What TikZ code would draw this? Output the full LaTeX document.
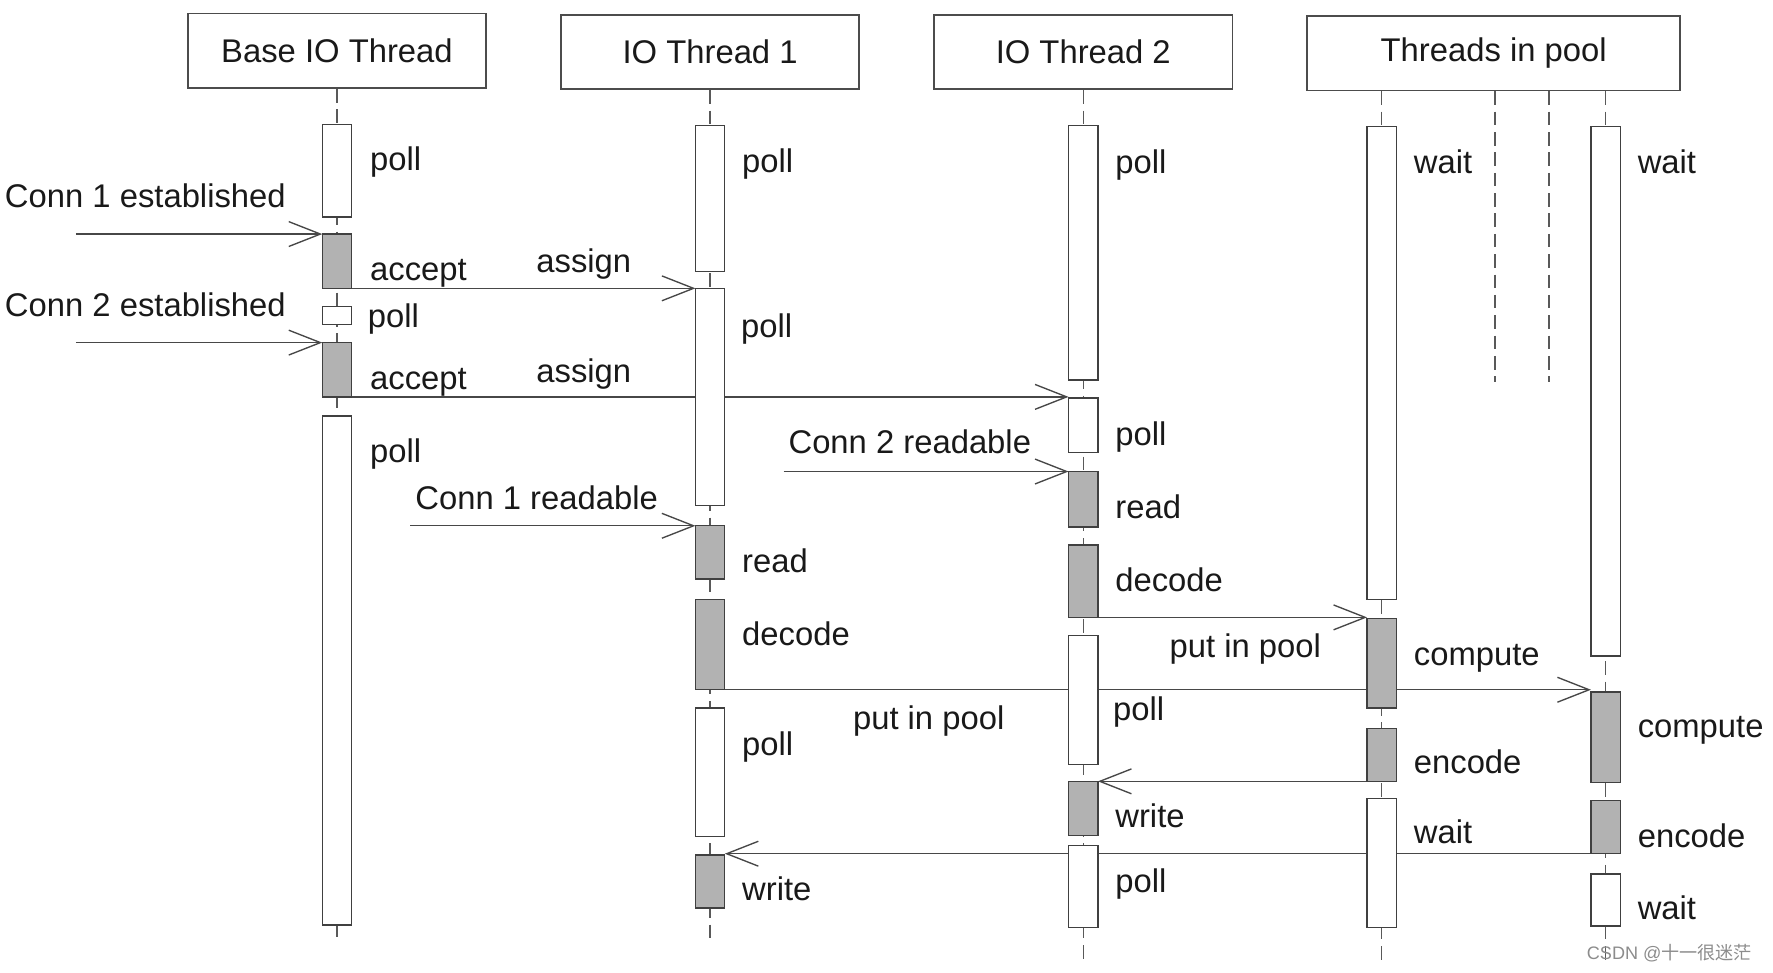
\documentclass[tikz,border=0pt]{standalone}
\usepackage{fontspec}
\setmainfont{Liberation Sans}
\newfontfamily\cjk{Noto Sans CJK SC}
\usetikzlibrary{arrows.meta,calc}
\newcommand\actbox[5]{%
  \pgfmathsetmacro\yc{(#3+#4)/2}\pgfmathsetmacro\hh{(#4-#3)*0.5}%
  \node[#5, minimum height=\hh pt] (#1) at (#2,\yc) {};}
\begin{document}
\begin{tikzpicture}[x=0.5pt,y=-0.5pt,
  font=\fontsize{14.5}{17}\selectfont,
  txt/.style={text=black!90, inner sep=0pt, anchor=west, text height=0.72em, text depth=0.2em, yshift=-2.5pt},
  hdr/.style={draw=black!70, line width=0.8pt, fill=white, minimum width=132pt, minimum height=33pt, inner sep=0pt, text=black!90},
  wbox/.style={draw=black!75, line width=0.6pt, fill=white, minimum width=13pt, inner sep=0pt, outer sep=0pt},
  sbox/.style={wbox, fill=black!30},
  life/.style={draw=black!65, line width=0.6pt, dash pattern=on 6pt off 3pt},
  msg/.style={draw=black!72, line width=0.6pt, -{Straight Barb[length=14pt,width=11pt]}},
]
\useasboundingbox (0,0) rectangle (1568,860);
\pgfdeclarelayer{bg}
\pgfsetlayers{bg,main}

% headers
\node[hdr] (hbase) at (298,45) {Base IO Thread};
\node[hdr] (hio1) at (628,46) {IO Thread 1};
\node[hdr] (hio2) at (958,46) {IO Thread 2};
\node[hdr, minimum width=165pt] (hpool) at (1321,47) {Threads in pool};

% lifeline end points
\coordinate (ebase) at (298,830);
\coordinate (eio1) at (628,832);
\coordinate (eio2) at (958,853);
\coordinate (epa) at (1222,853);
\coordinate (epb) at (1420,850);
\coordinate (epd1) at (1322,338);
\coordinate (epd2) at (1370,338);

% lifelines
\draw[life] (hbase.south) -- (ebase);
\draw[life] (hio1.south) -- (eio1);
\draw[life] (hio2.south) -- (eio2);
\draw[life] (hpool.south -| epa) -- (epa);
\draw[life] (hpool.south -| epb) -- (epb);
\draw[life] (hpool.south -| epd1) -- (epd1);
\draw[life] (hpool.south -| epd2) -- (epd2);

% Base IO thread
\actbox{bp1}{298}{110}{192}{wbox}
\actbox{ba1}{298}{207}{255}{sbox}
\actbox{bp2}{298}{271}{287}{wbox}
\actbox{ba2}{298}{303}{351}{sbox}
\actbox{bp3}{298}{368}{818}{wbox}
% IO thread 1
\actbox{ap1}{628}{111}{240}{wbox}
\actbox{ap2}{628}{255}{447}{wbox}
\actbox{ar}{628}{465}{512}{sbox}
\actbox{ad}{628}{530}{610}{sbox}
\actbox{ap3}{628}{626}{740}{wbox}
\actbox{aw}{628}{756}{803}{sbox}
% IO thread 2
\actbox{cp1}{958}{111}{336}{wbox}
\actbox{cp2}{958}{352}{400}{wbox}
\actbox{cr}{958}{417}{466}{sbox}
\actbox{cd}{958}{482}{546}{sbox}
\actbox{cp3}{958}{562}{676}{wbox}
\actbox{cw}{958}{691}{739}{sbox}
\actbox{cp4}{958}{748}{820}{wbox}
% pool A
\actbox{pw1}{1222}{112}{530}{wbox}
\actbox{pc}{1222}{547}{626}{sbox}
\actbox{pe}{1222}{644}{691}{sbox}
\actbox{pw2}{1222}{706}{820}{wbox}
% pool B
\actbox{qw1}{1420}{112}{580}{wbox}
\actbox{qc}{1420}{612}{692}{sbox}
\actbox{qe}{1420}{708}{755}{sbox}
\actbox{qw2}{1420}{773}{819}{wbox}

% free ends
\coordinate (s1) at (67,207);
\coordinate (s2) at (67,303);
\coordinate (s3) at (363,465);
\coordinate (s4) at (693,417);

\begin{pgfonlayer}{bg}
\draw[msg] (s1) -- (ba1.north west);
\draw[msg] (s2) -- (ba2.north west);
\draw[msg] (ba1.south east) -- (ba1.south east -| ap2.west);
\draw[msg] (ba2.south east) -- (ba2.south east -| cp2.west);
\draw[msg] (s3) -- (ar.north west);
\draw[msg] (s4) -- (cr.north west);
\draw[msg] (cd.south east) -- (cd.south east -| pc.west);
\draw[msg] (ad.south east) -- (ad.south east -| qc.west);
\draw[msg] (pe.south west) -- (pe.south west -| cw.east);
\draw[msg] (qe.south west) -- (qe.south west -| aw.east);
\end{pgfonlayer}

% labels
\node[txt] (l1) at (327,141) {poll};
\node[txt] (l2) at (327,238) {accept};
\node[txt] (l3) at (325,279) {poll};
\node[txt] (l4) at (327,334) {accept};
\node[txt] (l5) at (327,399) {poll};

\node[txt] (m1) at (656,142) {poll};
\node[txt] (m2) at (655,288) {poll};
\node[txt] (m3) at (656,496) {read};
\node[txt] (m4) at (656,561) {decode};
\node[txt] (m5) at (656,658) {poll};
\node[txt] (m6) at (656,786) {write};

\node[txt] (n1) at (986,143) {poll};
\node[txt] (n2) at (986,384) {poll};
\node[txt] (n3) at (986,448) {read};
\node[txt] (n4) at (986,513) {decode};
\node[txt] (n5) at (984,627) {poll};
\node[txt] (n6) at (986,722) {write};
\node[txt] (n7) at (986,779) {poll};

\node[txt] (o1) at (1250,143) {wait};
\node[txt] (o2) at (1250,578) {compute};
\node[txt] (o3) at (1250,674) {encode};
\node[txt] (o4) at (1250,736) {wait};

\node[txt] (p1) at (1448,143) {wait};
\node[txt] (p2) at (1448,642) {compute};
\node[txt] (p3) at (1448,739) {encode};
\node[txt] (p4) at (1448,803) {wait};

\node[txt] (t1) at (4,173) {Conn 1 established};
\node[txt] (t2) at (4,270) {Conn 2 established};
\node[txt] (t3) at (474,231) {assign};
\node[txt] (t4) at (474,328) {assign};
\node[txt] (t5) at (367,440) {Conn 1 readable};
\node[txt] (t6) at (697,391) {Conn 2 readable};
\node[txt] (t7) at (1034,571) {put in pool};
\node[txt] (t8) at (754,635) {put in pool};

\node[anchor=west, inner sep=0pt, text=black!45, font=\fontsize{8}{9}\selectfont] (wm) at (1403,843) {CSDN @{\cjk 十一很迷茫}};
\end{tikzpicture}
\end{document}
